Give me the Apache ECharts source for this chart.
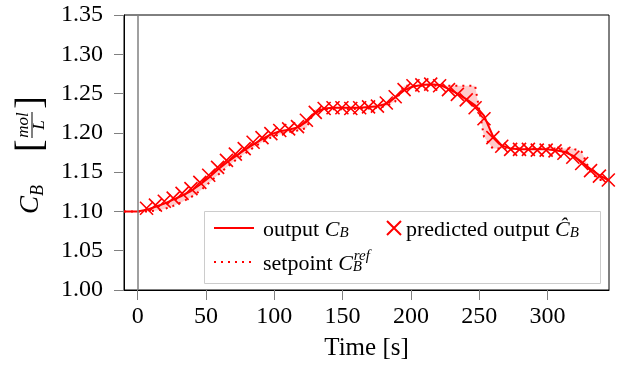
<!DOCTYPE html>
<html><head><meta charset="utf-8">
<script src="https://cdn.jsdelivr.net/npm/echarts@6/dist/echarts.min.js"></script>
<style>html,body{margin:0;padding:0;background:#fff}#c{width:617px;height:367px}</style>
</head><body><div id="c"></div>
<script>
// ---- data ----
const time = [-10, 0, 6.5, 13, 19.5, 26, 32.5, 39, 45.5, 52, 58.5, 65, 71.5, 78, 84.5, 91, 97.5, 104, 110.5, 117, 123.5, 130, 136.5, 143, 149.5, 156, 162.5, 169, 175.5, 182, 188.5, 195, 201.5, 208, 214.5, 221, 227.5, 234, 240.5, 247, 253.5, 260, 266.5, 273, 279.5, 286, 292.5, 299, 305.5, 312, 318.5, 325, 331.5, 338, 344.5];
const outputCB = [1.100, 1.100, 1.102, 1.106, 1.110, 1.115, 1.120, 1.126, 1.134, 1.143, 1.153, 1.162, 1.170, 1.178, 1.185, 1.192, 1.198, 1.202, 1.204, 1.207, 1.214, 1.225, 1.231, 1.232, 1.232, 1.232, 1.232, 1.233, 1.234, 1.237, 1.245, 1.254, 1.259, 1.261, 1.262, 1.261, 1.256, 1.250, 1.243, 1.235, 1.222, 1.196, 1.184, 1.180, 1.179, 1.179, 1.179, 1.179, 1.178, 1.176, 1.171, 1.163, 1.154, 1.146, 1.140];
const setpointCB = [1.100, 1.100, 1.100, 1.101, 1.103, 1.107, 1.112, 1.118, 1.126, 1.136, 1.146, 1.156, 1.165, 1.173, 1.181, 1.188, 1.194, 1.198, 1.201, 1.203, 1.206, 1.230, 1.230, 1.230, 1.230, 1.230, 1.231, 1.231, 1.232, 1.234, 1.240, 1.260, 1.260, 1.260, 1.260, 1.260, 1.260, 1.260, 1.260, 1.260, 1.195, 1.180, 1.180, 1.180, 1.180, 1.180, 1.180, 1.180, 1.180, 1.180, 1.180, 1.176, 1.150, 1.140, 1.140];
const predTime = [6.5, 13, 19.5, 26, 32.5, 39, 45.5, 52, 58.5, 65, 71.5, 78, 84.5, 91, 97.5, 104, 110.5, 117, 123.5, 130, 136.5, 143, 149.5, 156, 162.5, 169, 175.5, 182, 188.5, 195, 201.5, 208, 214.5, 221, 227.5, 234, 240.5, 247, 253.5, 260, 266.5, 273, 279.5, 286, 292.5, 299, 305.5, 312, 318.5, 325, 331.5, 338, 344.5];
const predictedCB = [1.104, 1.108, 1.113, 1.117, 1.123, 1.129, 1.137, 1.146, 1.156, 1.165, 1.173, 1.180, 1.188, 1.194, 1.199, 1.203, 1.205, 1.208, 1.216, 1.226, 1.231, 1.232, 1.232, 1.231, 1.232, 1.233, 1.234, 1.238, 1.246, 1.255, 1.260, 1.261, 1.262, 1.260, 1.255, 1.249, 1.242, 1.232, 1.218, 1.194, 1.183, 1.179, 1.179, 1.179, 1.178, 1.178, 1.177, 1.174, 1.169, 1.161, 1.152, 1.145, 1.140];
const xTicks = [0, 50, 100, 150, 200, 250, 300];

const FONT = '"Liberation Serif", "Times New Roman", serif';
const RED = '#ff0000';
const CROSS = 'path://M0,0L10,10M10,0L0,10';

const rich = {
  t: {fontFamily: FONT, fontSize: 22, color: '#000', lineHeight: 26, verticalAlign: 'bottom', padding: [0, 0, 0, 4]},
  n: {fontFamily: FONT, fontSize: 22, color: '#000', lineHeight: 26, verticalAlign: 'bottom'},
  m: {fontFamily: FONT, fontSize: 22, fontStyle: 'italic', color: '#000', lineHeight: 26, verticalAlign: 'bottom'},
  s: {fontFamily: FONT, fontSize: 15, fontStyle: 'italic', color: '#000', lineHeight: 14, verticalAlign: 'bottom'},
  s0: {fontFamily: FONT, fontSize: 15, fontStyle: 'italic', color: '#000', lineHeight: 14, verticalAlign: 'bottom', width: 1},
  p: {fontFamily: FONT, fontSize: 15, fontStyle: 'italic', color: '#000', lineHeight: 12, verticalAlign: 'top'}
};
const legendLabels = {
  'output': '{t|output }{m|C}{s|B}',
  'predicted': '{n|predicted output }{m|Ĉ}{s|B}',
  'setpoint': '{t|setpoint }{m|C}{s0|B}{p|ref}'
};
function legendCommon(extra) {
  return Object.assign({
    orient: 'horizontal', padding: 0, selectedMode: false,
    itemHeight: 14,
    formatter: (name) => legendLabels[name],
    textStyle: {fontFamily: FONT, fontSize: 22, color: '#000', rich: rich}
  }, extra);
}
const hiddenSymbol = {color: 'rgba(0,0,0,0)', borderColor: 'rgba(0,0,0,0)', borderWidth: 0};

const chart = echarts.init(document.getElementById('c'), null, {renderer: 'canvas'});
chart.setOption({
  animation: false,
  backgroundColor: '#fff',
  grid: {left: 124, right: 8, top: 15, bottom: 77, show: true, borderColor: '#000', borderWidth: 1, backgroundColor: 'transparent'},
  xAxis: {
    type: 'value', min: -10, max: 345,
    name: 'Time [s]', nameLocation: 'middle', nameGap: 46,
    nameTextStyle: {fontFamily: FONT, fontSize: 25, color: '#000'},
    axisLine: {show: true, onZero: false, lineStyle: {color: '#000', width: 1}},
    axisTick: {show: true, inside: false, length: 10, customValues: xTicks, lineStyle: {color: '#808080', width: 1}},
    axisLabel: {customValues: xTicks, margin: 15, fontFamily: FONT, fontSize: 24, color: '#000'},
    splitLine: {show: false}
  },
  yAxis: {
    type: 'value', min: 1.0, max: 1.35, interval: 0.05,
    axisLine: {show: true, onZero: false, lineStyle: {color: '#000', width: 1}},
    axisTick: {show: true, inside: false, length: 10, lineStyle: {color: '#808080', width: 1}},
    axisLabel: {margin: 21, fontFamily: FONT, fontSize: 24, color: '#000', formatter: (v) => v.toFixed(2)},
    splitLine: {show: false}
  },
  legend: [
    legendCommon({data: ['output'], left: 213, top: 219, itemWidth: 40, itemStyle: hiddenSymbol}),
    legendCommon({data: ['predicted'], left: 386, top: 219, itemWidth: 14}),
    legendCommon({data: ['setpoint'], left: 213, top: 249, itemWidth: 40, itemStyle: hiddenSymbol})
  ],
  graphic: [
    {type: 'rect', left: 204, top: 211, z: 3, shape: {width: 396, height: 72}, style: {fill: '#fff', stroke: '#cccccc', lineWidth: 1}},
    {type: 'group', x: 31, y: 155, rotation: Math.PI / 2, children: [
      {type: 'text', x: -59, y: 0, style: {text: 'C', font: 'italic 27px ' + FONT, fill: '#000', textAlign: 'left', textVerticalAlign: 'middle', align: 'left', verticalAlign: 'middle'}},
      {type: 'text', x: -41, y: 7, style: {text: 'B', font: 'italic 18px ' + FONT, fill: '#000', textAlign: 'left', textVerticalAlign: 'middle', align: 'left', verticalAlign: 'middle'}},
      {type: 'text', x: 3, y: 0, style: {text: '[', font: '38px ' + FONT, fill: '#000', textAlign: 'left', textVerticalAlign: 'middle', align: 'left', verticalAlign: 'middle'}},
      {type: 'text', x: 30, y: -7, style: {text: 'mol', font: 'italic 17px ' + FONT, fill: '#000', textAlign: 'center', textVerticalAlign: 'middle', align: 'center', verticalAlign: 'middle'}},
      {type: 'line', shape: {x1: 17, y1: 1, x2: 43, y2: 1}, style: {stroke: '#000', lineWidth: 1}},
      {type: 'text', x: 30, y: 9, style: {text: 'L', font: 'italic 17px ' + FONT, fill: '#000', textAlign: 'center', textVerticalAlign: 'middle', align: 'center', verticalAlign: 'middle'}},
      {type: 'text', x: 59, y: 0, style: {text: ']', font: '38px ' + FONT, fill: '#000', textAlign: 'right', textVerticalAlign: 'middle', align: 'right', verticalAlign: 'middle'}}
    ]}
  ],
  series: [
    {
      type: 'custom', name: '_band', silent: true, z: 1,
      encode: {x: 0, y: 1},
      data: time.map((t, i) => [t, setpointCB[i]]),
      renderItem: (params, api) => {
        if (params.dataIndex !== 0) return null;
        const pts = [];
        for (let i = 0; i < time.length; i++) pts.push(api.coord([time[i], outputCB[i]]));
        for (let i = time.length - 1; i >= 0; i--) pts.push(api.coord([time[i], setpointCB[i]]));
        return {type: 'polygon', shape: {points: pts}, style: {fill: 'rgba(255,0,0,0.2)', stroke: null}};
      }
    },
    {
      type: 'line', name: 'setpoint', z: 2,
      data: time.map((t, i) => [t, setpointCB[i]]),
      symbol: 'none', silent: true,
      lineStyle: {color: RED, width: 2, type: [2, 5]},
      itemStyle: {color: RED}
    },
    {
      type: 'line', name: 'output', z: 3,
      data: time.map((t, i) => [t, outputCB[i]]),
      symbol: 'none', silent: true,
      lineStyle: {color: RED, width: 2},
      itemStyle: {color: RED},
      markLine: {
        silent: true, symbol: ['none', 'none'], label: {show: false},
        lineStyle: {color: '#808080', width: 1.5, type: 'solid'},
        emphasis: {disabled: true},
        data: [{xAxis: 0}]
      }
    },
    {
      type: 'scatter', name: 'predicted', z: 4,
      data: predTime.map((t, i) => [t, predictedCB[i]]),
      symbol: CROSS, symbolSize: 13, silent: true,
      itemStyle: {color: RED, borderColor: RED, borderWidth: 1.6, opacity: 1}
    }
  ]
});
</script>
</body></html>
